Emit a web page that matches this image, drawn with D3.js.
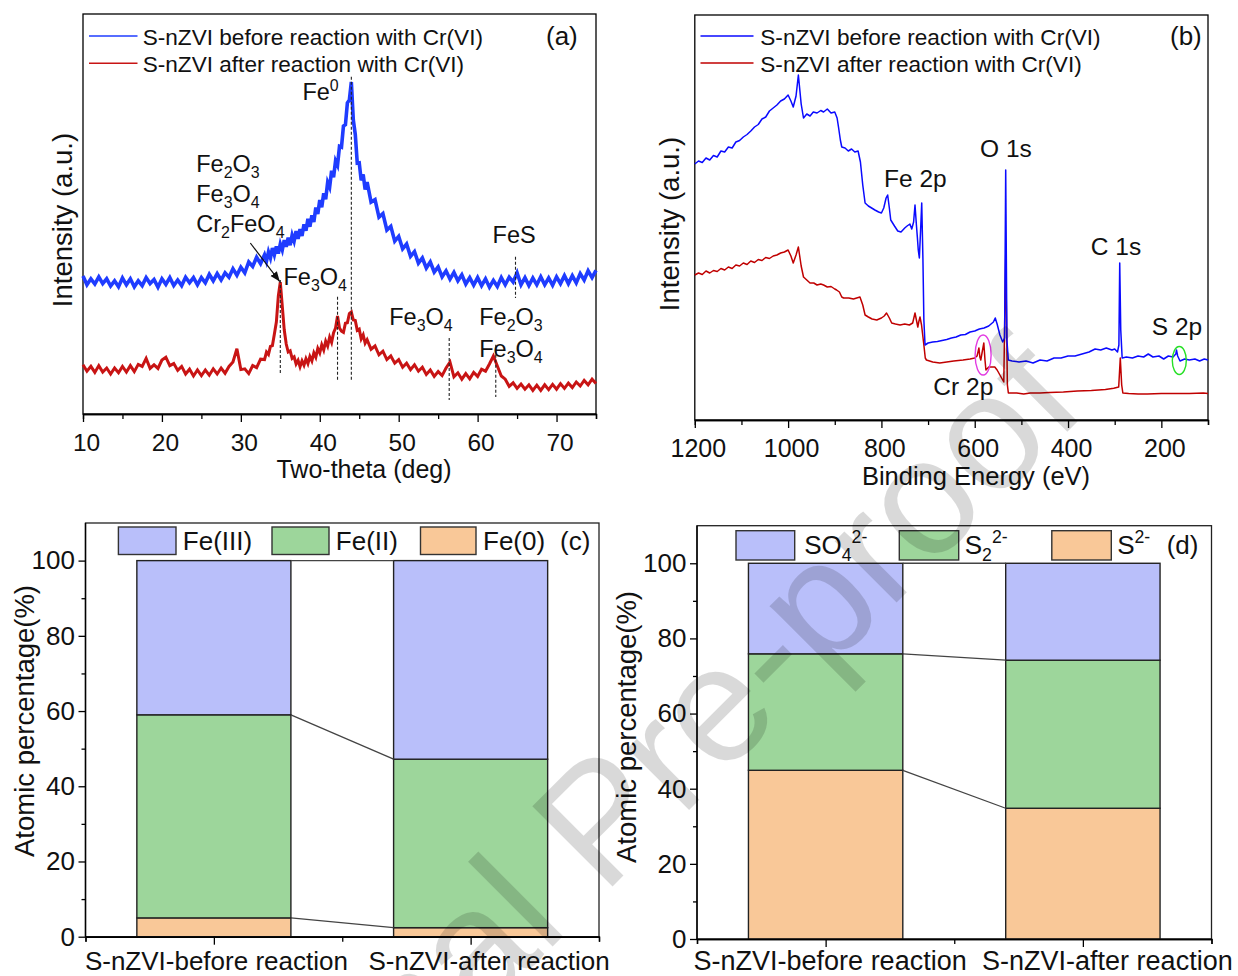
<!DOCTYPE html>
<html><head><meta charset="utf-8">
<script src="https://cdn.jsdelivr.net/npm/d3@7"></script>
<style>
body{margin:0;background:#fff}
svg{display:block}
text{font-family:"Liberation Sans",Arial,sans-serif;fill:#111}
</style>
</head><body>
<svg id="chart" width="1238" height="976"></svg>
<script>
// ===================== DATA =====================
// (a) XRD, Two-theta (deg) and intensity (a.u.)
const xrdTheta = [10,10.5,11,11.5,12,12.5,13,13.5,14,14.5,15,15.5,16,16.5,17,17.5,18,18.5,19,19.5,20,20.5,21,21.5,22,22.5,23,23.5,24,24.5,25,25.5,26,26.5,27,27.5,28,28.5,29,29.5,30,30.5,31,31.5,32,32.5,33,
33.25,33.5,33.75,34,34.25,34.5,34.75,35,35.25,35.5,35.75,36,36.25,36.5,36.75,37,37.25,37.5,37.75,38,38.25,38.5,38.75,39,39.25,39.5,39.75,40,40.25,40.5,40.75,41,41.25,41.5,41.75,42,42.25,42.5,42.75,43,43.25,43.5,43.75,44,44.25,44.5,44.75,45,45.25,45.5,45.75,46,
46.5,47,47.5,48,48.5,49,49.5,50,50.5,51,51.5,52,52.5,53,53.5,54,54.5,55,55.5,56,56.5,57,57.5,58,58.5,59,59.5,60,60.5,61,61.5,62,62.5,63,63.5,64,64.5,65,65.5,66,66.5,67,67.5,68,68.5,69,69.5,70,70.5,71,71.5,72,72.5,73,73.5,74,74.5,75];
const xrdBefore = [34.5,32.3,33.8,32.5,34.3,32.6,33.8,32.0,33.3,31.8,34.0,32.3,33.8,31.8,33.3,32.1,34.1,32.6,33.6,31.7,33.8,32.4,34.1,32.1,33.5,32.1,34.2,32.8,34.1,32.3,34.1,32.8,34.9,33.3,35.1,33.5,35.3,34.2,36.3,34.7,36.7,35.3,38.0,36.9,39.2,37.6,39.8,
38.2,40.5,39.0,41.5,39.8,41.9,40.1,42.5,41.0,43.5,41.8,44.1,42.2,44.7,43.2,45.7,43.8,46.2,44.5,47.4,45.8,48.8,46.8,49.7,48.0,51.6,50.0,53.5,51.7,55.2,53.7,57.9,56.7,60.8,59.2,63.3,62.2,66.9,66.7,72.0,72.3,77.8,78.5,83.0,73.5,69.9,62.7,62.8,58.4,59.9,56.1,58.0,
53.0,53.6,49.2,50.1,46.0,46.9,43.2,44.4,41.3,42.5,39.4,40.6,37.7,39.0,36.5,38.0,35.5,36.8,34.3,35.8,33.7,35.4,33.3,34.8,32.5,34.1,32.2,34.1,32.1,33.8,31.7,33.4,31.9,34.1,32.3,34.2,33.0,35.3,32.3,34.1,32.1,34.0,32.3,34.3,32.3,34.0,32.2,34.3,32.6,34.6,32.6,34.6,32.8,35.1,33.5,35.8,34.1,35.9];
const xrdAfter = [12.3,10.7,11.9,10.4,12.1,10.5,11.5,10.0,11.5,10.3,11.9,10.5,12.1,10.6,12.4,11.9,13.9,11.4,12.3,11.4,13.5,14.2,12.1,12.6,10.9,11.9,10.0,11.2,9.5,11.0,9.6,11.0,9.7,11.3,10.0,11.5,10.2,11.9,13.0,16.3,11.1,11.3,10.1,12.1,11.6,13.7,13.6,
15.5,14.9,16.9,17.1,20.0,23.0,29.5,33.0,27.0,21.0,17.5,15.5,15.8,13.9,14.3,12.5,13.4,11.8,13.3,12.2,13.8,12.6,14.4,13.3,15.3,14.2,16.4,15.3,17.3,16.0,18.2,17.0,19.2,17.9,20.3,21.5,24.5,21.5,20.7,20.4,22.7,22.8,25.1,25.5,23.5,23.4,20.9,21.2,18.8,19.8,17.7,18.6,
16.2,17.0,14.8,15.7,13.6,14.5,12.7,13.6,11.7,12.7,11.1,12.3,10.7,11.7,9.9,11.0,9.4,10.6,9.6,11.5,13.0,9.3,10.3,8.7,10.1,8.8,10.4,9.4,11.2,10.7,12.5,14.5,12.0,9.5,8.7,6.9,7.8,6.4,7.5,6.2,7.3,5.9,7.2,5.9,7.3,6.1,7.4,6.2,7.6,6.4,7.7,6.6,8.0,7.0,8.4,7.3,8.7,7.6];
const xrdTicks = [10,20,30,40,50,60,70];
const xrdMinorTicks = [15,25,35,45,55,65,75];
// dashed reference markers: two-theta, from/to intensity
const xrdRefTheta = [35.0, 42.25, 44.0, 56.4, 62.3, 64.8];
const xrdRefFrom  = [33.5, 29.3, 84.3, 19.0, 17.3, 39.3];
const xrdRefTo    = [9.75, 8.1, 8.1, 3.5, 4.25, 29.0];
const xrdLabelText  = ["Fe^{0}","Fe_{2}O_{3}","Fe_{3}O_{4}","Cr_{2}FeO_{4}","Fe_{3}O_{4}","FeS","Fe_{3}O_{4}","Fe_{2}O_{3}","Fe_{3}O_{4}"];
const xrdLabelTheta = [37.8, 24.35, 24.35, 24.35, 35.4, 61.9, 48.8, 60.2, 60.2];
const xrdLabelInt   = [78.4, 60.6, 53.1, 45.6, 32.25, 42.75, 22.25, 22.25, 14.3];

// (b) XPS survey, binding energy (eV) and intensity (a.u.)
const xpsBeforeE = [1200,1192,1184,1176,1168,1160,1152,1144,1136,1128,1120,1112,1104,1096,1088,1080,1072,1064,1056,1048,1040,1032,1024,1016,1008,1000,994,989,983,978,972,967,960,953,946,938,930,924,916,908,900,895,892,888,885,878,871,864,857,850,845,840,835,828,821,814,806,800,795,790,786.6,783,780,772,765,758,750,745,739,735,731,728,725,723,721,718.7,716,713.6,711,709,706.5,700,690,680,670,660,650,640,630,620,610,600,590,580,570,560,556,552,546,540,536,533.6,531,528,520,505,490,475,460,445,430,415,400,385,370,355,342,330,318,306,300,294,291,289.2,287,284,275,262,250,238,228,218,205,195,185,175,169,167.6,165,160,150,140,128,118,108,100];
const xpsBeforeI = [256,259,257.5,262,260,264.5,263,269,268,273,272,278,279.5,283,285.5,289,293,295.5,301,303,309,312,315,319,321,325,319,313,324,345,316,302,306,304,308,307,309.5,308,311,307,308,302,293,280,273,272,269,271,268,269,258,235,217,214,212,210,208,207,212,222,225,212,200,194,189,188,192,194,196,191,198,215,195,183,170,162,190,217,160,100,75,77,78,78.5,79.5,80.5,82,83,85,85.5,88,89,91,92,94,98,102,96,85,78,82,250,80,60,59,58,59,57,60,59,62,62,64,64,66,68,71,70,72,70,71,68,75,157,90,62,63,62,64,63,66,63,64,61,64,63,66,70,64,59,61,60,61,59,61,60];
const xpsAfterE = [1200,1192,1184,1176,1168,1160,1152,1144,1136,1128,1120,1112,1104,1096,1088,1080,1072,1064,1056,1048,1040,1032,1024,1016,1008,1000,994,989,983,978,972,967,960,953,945,938,930,924,916,908,900,896,890,885,881,870,860,853,846,840,835,828,820,810,800,794,789,783,778,770,760,750,740,733,728,725,722,720,717.3,714,712,709,706,703.5,690,675,660,645,625,610,600,595,591,589,587,584,580.5,578,576,570,567.7,557,552,546,540,537.7,533.6,530,527.9,510,495,481,460,440,410,380,350,320,302,291.4,288,285,282.5,270,250,230,200,170,140,110,100];
const xpsAfterI = [145,147,145.5,149,147,149.5,148.5,151.5,150,153,151.5,155,154,157,155.5,159,157.5,160.5,159.5,162.5,161.5,164,165,167,168,170,164,157,165,173,154,143,140,137,137,135,136,135,133,133.5,131,130,128,123,122,122,121,122,123,115,105,103,101,100,102,104,107,102,97,96,95,96,95,97,107,100,93,98,103,95,87,75,62,60,58,57,58,59,60,61,62,64,72,63,60,68,77,60,50,53,53,53,50,45,40,38,165,35,27,27,26,27,27,27.5,28,29,29.5,30.5,31.7,33,62,35,27,26.5,26,26,26.5,26.5,26.5,27,26.5];
const xpsTicks = [1200,1000,800,600,400,200];
const xpsMinorTicks = [1100,900,700,500,300,100];
const xpsLabelText = ["Fe 2p","O 1s","C 1s","S 2p","Cr 2p"];
const xpsLabelE    = [794.4, 588.6, 351.3, 220.6, 688.7];
const xpsLabelI    = [233.3, 263.3, 165, 85, 25];
const xpsMarkE = [582, 161.5];   // circled regions (Cr 2p, S 2p)
const xpsMarkI = [65, 59.5];

const legendTop = ["S-nZVI before reaction with Cr(VI)", "S-nZVI after reaction with Cr(VI)"];

// (c)(d) atomic percentages
const categories = ["S-nZVI-before reaction", "S-nZVI-after reaction"];
const feNames = ["Fe(III)", "Fe(II)", "Fe(0)"];
const fe0 = [5.0, 2.4];
const fe2 = [54.0, 44.8];
const fe3 = [41.0, 52.8];
const sNames = ["SO_{4}^{2-}", "S_{2}^{2-}", "S^{2-}"];
const sMono = [44.9, 34.8];   // S2-
const sDi   = [31.0, 39.4];   // S2 2-
const sSO4  = [24.1, 25.8];   // SO4 2-
const pctTicks = [0,20,40,60,80,100];
const pctMinorTicks = [10,30,50,70,90];

// ===================== DRAW =====================
const svg = d3.select("#chart");
const BLUE_A = "#1f3cff", RED_A = "#c81414";
const BLUE_B = "#0a0aff", RED_B = "#c00000";
const C_III = "#b9bffa", C_II = "#9dd69b", C_0 = "#f9c898";

const defs = svg.append("defs");
defs.append("marker").attr("id","arr").attr("viewBox","0 0 10 10").attr("refX",10).attr("refY",5)
  .attr("markerWidth",10).attr("markerHeight",10).attr("markerUnits","userSpaceOnUse").attr("orient","auto")
  .append("path").attr("d","M0,1 L10,5 L0,9 z").attr("fill","#111");

function rich(t, str, fs){
  const parts = str.split(/(_\{[^}]*\}|\^\{[^}]*\})/).filter(s => s.length);
  let shift = 0;
  parts.forEach(p => {
    let mode = 0, s = p;
    if (p.startsWith("_{")) { mode = 1; s = p.slice(2, -1); }
    else if (p.startsWith("^{")) { mode = -1; s = p.slice(2, -1); }
    const target = mode === 1 ? 0.26*fs : mode === -1 ? -0.42*fs : 0;
    t.append("tspan").attr("dy", target - shift).attr("font-size", mode ? fs*0.68 : fs).text(s);
    shift = target;
  });
}

function styleAxis(g, fs){
  g.attr("font-family", null).attr("font-size", null);
  g.selectAll("path.domain").attr("stroke","#000").attr("stroke-width",1.4);
  g.selectAll(".tick line").attr("stroke","#000").attr("stroke-width",1.3);
  g.selectAll("text").attr("font-size", fs).attr("fill","#111");
}

// ---------- Panel (a) ----------
{
  const x = d3.scaleLinear().domain([10,75]).range([83,596]);
  const y = d3.scaleLinear().domain([0,100]).range([414,14]);
  svg.append("rect").attr("x",83).attr("y",14).attr("width",513).attr("height",400)
    .attr("fill","none").attr("stroke","#000").attr("stroke-width",1.3);
  const line = d3.line().x(d => x(d[0])).y(d => y(d[1]));
  svg.append("path").datum(d3.zip(xrdTheta, xrdAfter)).attr("d", line)
    .attr("fill","none").attr("stroke",RED_A).attr("stroke-width",3).attr("stroke-linejoin","miter");
  svg.append("path").datum(d3.zip(xrdTheta, xrdBefore)).attr("d", line)
    .attr("fill","none").attr("stroke",BLUE_A).attr("stroke-width",3.6).attr("stroke-linejoin","miter");
  xrdRefTheta.forEach((t,i) => {
    svg.append("line").attr("x1",x(t)).attr("x2",x(t)).attr("y1",y(xrdRefFrom[i])).attr("y2",y(xrdRefTo[i]))
      .attr("stroke","#222").attr("stroke-width",1.1).attr("stroke-dasharray","3,2");
  });
  const gMin = svg.append("g").attr("transform","translate(0,414)")
    .call(d3.axisBottom(x).tickValues(xrdMinorTicks).tickSize(5).tickFormat(""));
  styleAxis(gMin, 24.5);
  const gMaj = svg.append("g").attr("transform","translate(0,414)")
    .call(d3.axisBottom(x).tickValues(xrdTicks).tickSize(8).tickSizeOuter(0));
  styleAxis(gMaj, 24.5);
  gMaj.selectAll("text").attr("y", 37).attr("dy", 0).attr("dx", 3);
  svg.append("text").attr("x", 364).attr("y", 478).attr("text-anchor","middle").attr("font-size",25).text("Two-theta (deg)");
  svg.append("text").attr("transform","translate(72,220) rotate(-90)").attr("text-anchor","middle").attr("font-size",27.5).text("Intensity (a.u.)");
  // legend
  [BLUE_A, RED_A].forEach((c,i) => {
    svg.append("line").attr("x1",89).attr("x2",137.5).attr("y1",36+27.3*i).attr("y2",36+27.3*i).attr("stroke",c).attr("stroke-width",1.6);
    svg.append("text").attr("x",142.7).attr("y",45+26.7*i).attr("font-size",22.6).text(legendTop[i]);
  });
  svg.append("text").attr("x",546).attr("y",45).attr("font-size",26).text("(a)");
  xrdLabelText.forEach((s,i) => {
    const t = svg.append("text").attr("x", x(xrdLabelTheta[i])).attr("y", y(xrdLabelInt[i]));
    rich(t, s, 23.5);
  });
  svg.append("line").attr("x1", x(31.2)).attr("y1", y(42.75)).attr("x2", x(34.93)).attr("y2", y(33.1))
    .attr("stroke","#111").attr("stroke-width",1.2).attr("marker-end","url(#arr)");
}

// ---------- Panel (b) ----------
{
  const x = d3.scaleLinear().domain([1200,100]).range([694.8,1208]);
  const y = d3.scaleLinear().domain([0,405]).range([420,15]);
  svg.append("rect").attr("x",694.8).attr("y",15).attr("width",513.2).attr("height",405)
    .attr("fill","none").attr("stroke","#000").attr("stroke-width",1.3);
  const line = d3.line().x(d => x(d[0])).y(d => y(d[1]));
  svg.append("path").datum(d3.zip(xpsAfterE, xpsAfterI)).attr("d", line)
    .attr("fill","none").attr("stroke",RED_B).attr("stroke-width",1.5).attr("stroke-linejoin","round");
  svg.append("path").datum(d3.zip(xpsBeforeE, xpsBeforeI)).attr("d", line)
    .attr("fill","none").attr("stroke",BLUE_B).attr("stroke-width",1.5).attr("stroke-linejoin","round");
  const gMin = svg.append("g").attr("transform","translate(0,420)")
    .call(d3.axisBottom(x).tickValues(xpsMinorTicks).tickSize(5).tickFormat(""));
  styleAxis(gMin, 25);
  const gMaj = svg.append("g").attr("transform","translate(0,420)")
    .call(d3.axisBottom(x).tickValues(xpsTicks).tickSize(8).tickSizeOuter(0).tickFormat(d3.format("d")));
  styleAxis(gMaj, 25);
  gMaj.selectAll("text").attr("y", 37).attr("dy", 0).attr("dx", 3);
  svg.append("text").attr("x", 976).attr("y", 485).attr("text-anchor","middle").attr("font-size",25.5).text("Binding Energy (eV)");
  svg.append("text").attr("transform","translate(679,224) rotate(-90)").attr("text-anchor","middle").attr("font-size",27.5).text("Intensity (a.u.)");
  [BLUE_B, RED_B].forEach((c,i) => {
    svg.append("line").attr("x1",700.5).attr("x2",753.5).attr("y1",36+27*i).attr("y2",36+27*i).attr("stroke",c).attr("stroke-width",1.6);
    svg.append("text").attr("x",760.3).attr("y",45+26.5*i).attr("font-size",22.6).text(legendTop[i]);
  });
  svg.append("text").attr("x",1170).attr("y",45).attr("font-size",26).text("(b)");
  xpsLabelText.forEach((s,i) => {
    svg.append("text").attr("x", x(xpsLabelE[i])).attr("y", y(xpsLabelI[i])).attr("font-size",24.5).text(s);
  });
  svg.append("ellipse").attr("cx", x(xpsMarkE[0])).attr("cy", y(xpsMarkI[0])).attr("rx",8).attr("ry",20)
    .attr("fill","none").attr("stroke","#e23be2").attr("stroke-width",1.4);
  svg.append("ellipse").attr("cx", x(xpsMarkE[1])).attr("cy", y(xpsMarkI[1])).attr("rx",7).attr("ry",14)
    .attr("fill","none").attr("stroke","#26e026").attr("stroke-width",1.4);
}

// ---------- Panels (c)(d) ----------
function barPanel(o){
  const x = d3.scaleLinear().domain([0.5,2.5]).range([o.x0,o.x1]);
  const y = d3.scaleLinear().domain([0,110]).range([o.yb,o.yt]);
  svg.append("rect").attr("x",o.x0).attr("y",o.yt).attr("width",o.x1-o.x0).attr("height",o.yb-o.yt)
    .attr("fill","none").attr("stroke","#222").attr("stroke-width",1.3);
  const table = categories.map((c,i) => { const r = {cat:c}; o.keys.forEach((k,j) => r[k] = o.values[j][i]); return r; });
  const stack = d3.stack().keys(o.keys)(table);
  stack.forEach((layer, li) => {
    svg.append("g").selectAll("rect").data(layer).join("rect")
      .attr("x", (d,i) => x(i+1-0.3)).attr("width", x(1.3)-x(0.7))
      .attr("y", d => y(d[1])).attr("height", d => y(d[0]) - y(d[1]))
      .attr("fill", o.colors[li]).attr("stroke","#222").attr("stroke-width",1.4);
  });
  stack.forEach(layer => {
    svg.append("line").attr("x1", x(1.3)).attr("x2", x(1.7))
      .attr("y1", y(layer[0][1])).attr("y2", y(layer[1][1]))
      .attr("stroke","#444").attr("stroke-width",1.3);
  });
  const gyMin = svg.append("g").attr("transform",`translate(${o.x0},0)`)
    .call(d3.axisLeft(y).tickValues(pctMinorTicks).tickSize(4).tickFormat(""));
  styleAxis(gyMin, 26);
  gyMin.select("path.domain").remove();
  const gy = svg.append("g").attr("transform",`translate(${o.x0},0)`)
    .call(d3.axisLeft(y).tickValues(pctTicks).tickSize(7).tickPadding(3.5).tickSizeOuter(0));
  styleAxis(gy, 26);
  gy.select("path.domain").attr("d", `M0,${o.yb}V${o.yt}`);
  const gxMin = svg.append("g").attr("transform",`translate(0,${o.yb})`)
    .call(d3.axisBottom(x).tickValues([0.5,1.5,2.5]).tickSize(5).tickFormat(""));
  styleAxis(gxMin, o.catFs);
  const gx = svg.append("g").attr("transform",`translate(0,${o.yb})`)
    .call(d3.axisBottom(x).tickValues([1,2]).tickSize(8).tickSizeOuter(0).tickFormat((d,i) => categories[i]));
  styleAxis(gx, o.catFs);
  gx.selectAll("text").attr("y", o.labY).attr("dy", 0).attr("dx", (d,i) => o.labDx[i]);
  svg.append("text").attr("transform",`translate(${o.ylabX},${o.ylabY}) rotate(-90)`).attr("text-anchor","middle")
    .attr("font-size",27.5).text("Atomic percentage(%)");
  // legend (top-to-bottom order of stack)
  o.legend.forEach((L,i) => {
    svg.append("rect").attr("x",L[0]).attr("y",o.legY).attr("width",L[1]-L[0]).attr("height",o.legH)
      .attr("fill", o.colors[o.keys.length-1-i]).attr("stroke","#333").attr("stroke-width",1.4);
    const t = svg.append("text").attr("x",L[2]).attr("y",o.legBase);
    rich(t, o.names[i], 26);
  });
  svg.append("text").attr("x",o.tagX).attr("y",o.legBase).attr("font-size",26).text(o.tag);
}

barPanel({x0:85.5, x1:599, yb:936.7, yt:523, keys:["fe0","fe2","fe3"], values:[fe0,fe2,fe3],
  colors:[C_0,C_II,C_III], names:feNames, labY:33, labDx:[2,18], catFs:26, ylabX:34, ylabY:721,
  legend:[[118.4,176,182.8],[272,329,335.8],[420.5,476,483]], legY:527, legH:27.5, legBase:550,
  tag:"(c)", tagX:560});
barPanel({x0:697, x1:1211.5, yb:939, yt:525.7, keys:["s2","s22","so4"], values:[sMono,sDi,sSO4],
  colors:[C_0,C_II,C_III], names:sNames, labY:30.5, labDx:[4,24], catFs:27, ylabX:636, ylabY:727,
  legend:[[736,794.7,804.2],[899.3,958.7,964.7],[1051.8,1111.3,1117.2]], legY:530.7, legH:29.3, legBase:554,
  tag:"(d)", tagX:1166.7});

// watermark
svg.append("text").attr("transform","translate(188,1311) rotate(-45)").attr("font-size",165)
  .style("fill","#000").attr("fill-opacity",0.15).text("Journal Pre-proof");
</script>
</body></html>
